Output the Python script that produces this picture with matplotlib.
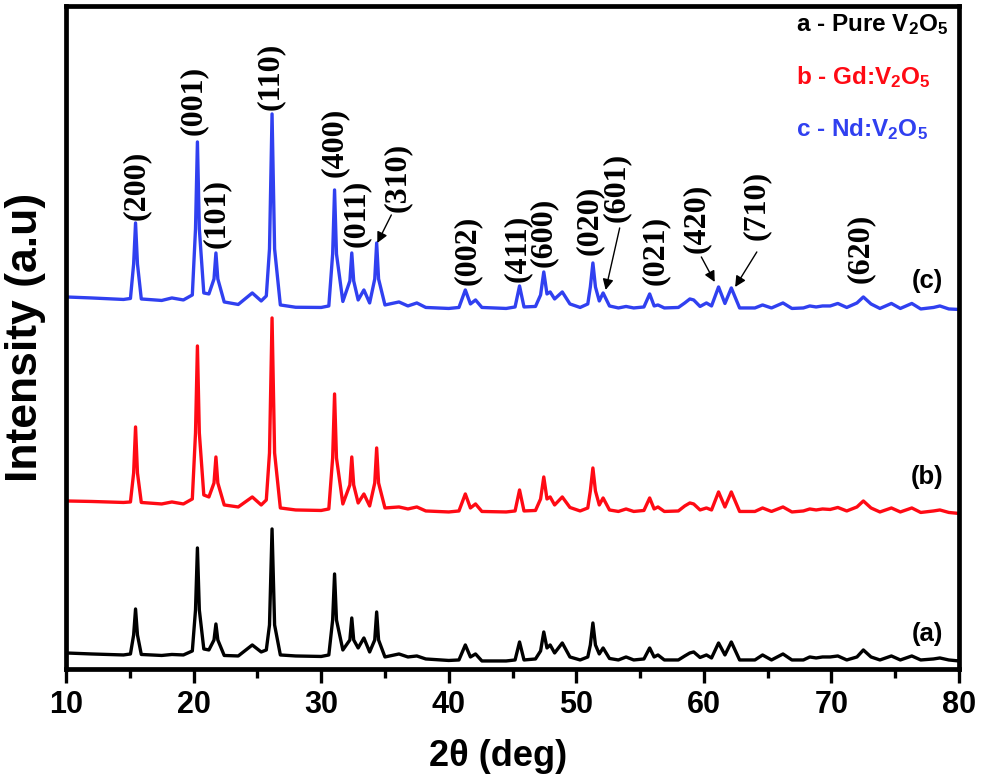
import matplotlib
matplotlib.use('Agg')
import matplotlib.pyplot as plt

plt.rcParams['font.family'] = ['Liberation Sans', 'DejaVu Sans']
plt.rcParams['font.weight'] = 'bold'
plt.rcParams['mathtext.fontset'] = 'custom'
plt.rcParams['mathtext.rm'] = 'Liberation Sans:bold'
plt.rcParams['mathtext.it'] = 'Liberation Sans:bold'
plt.rcParams['mathtext.bf'] = 'Liberation Sans:bold'

# 2theta vertices (shared by the three patterns)
two_theta = [10.0, 12.0, 14.5, 15.05, 15.3, 15.45, 15.6, 15.9, 17.5, 18.3,
             19.2, 19.9, 20.15, 20.3, 20.45, 20.8, 21.2, 21.6, 21.75, 21.9,
             22.4, 23.5, 24.6, 25.3, 25.7, 25.95, 26.15, 26.35, 26.8, 28.0,
             30.0, 30.6, 30.9, 31.05, 31.2, 31.7, 32.25, 32.4, 32.55, 32.9,
             33.35, 33.8, 34.2, 34.35, 34.5, 35.0, 36.1, 36.8, 37.5, 38.2,
             40.0, 40.8, 41.3, 41.7, 42.1, 42.6, 44.5, 45.2, 45.55, 45.9,
             46.8, 47.2, 47.45, 47.7, 47.95, 48.3, 48.9, 49.5, 50.3, 50.9,
             51.1, 51.3, 51.5, 51.8, 52.1, 52.6, 53.3, 53.9, 54.5, 55.3,
             55.75, 56.1, 56.4, 56.9, 58.0, 58.5, 58.9, 59.2, 59.7, 60.2,
             60.6, 61.15, 61.65, 62.15, 62.8, 64.0, 64.6, 65.3, 66.2, 66.9,
             67.8, 68.3, 68.8, 69.3, 69.9, 70.5, 71.2, 72.0, 72.5, 73.1,
             73.8, 74.7, 75.4, 76.3, 77.0, 78.0, 78.5, 79.2, 80.0]

pure = [12, 11, 10, 11, 30, 56, 30, 10.5, 9.5, 10.5,
        10, 14, 55, 117, 55, 16, 15, 25, 41, 25,
        9.5, 9, 20, 13, 15, 40, 136, 40, 10, 9,
        8.5, 10, 45, 91, 45, 15, 25, 47, 25, 17,
        27, 13, 25, 53, 25, 8, 11, 8, 9, 6,
        4.5, 5, 20, 8, 11, 4, 4, 5, 23, 5,
        6, 14, 33, 17, 20, 12, 22, 8, 5, 8,
        20, 42, 20, 11, 17, 6.5, 5, 8, 5, 6,
        17, 8, 10, 5, 5, 9, 12, 13, 7.5, 10,
        7, 22, 10, 23, 5, 5, 10, 5, 11, 5,
        5, 8, 7, 8, 8, 9, 5, 8, 15, 8,
        5, 9, 5, 9, 5, 6, 7, 5, 4]

gd = [12, 11.5, 10.5, 11, 40, 86, 40, 10.5, 9, 11,
      9, 14, 80, 167, 80, 18, 16, 30, 56, 30,
      8, 6, 16, 8, 13, 60, 195, 60, 5, 3,
      2.5, 4, 55, 119, 55, 9, 28, 56, 28, 10,
      19, 7, 30, 65, 30, 5, 6, 4, 6, 2,
      1, 2, 19, 5, 9, 1.5, 1, 2, 23, 2,
      2.5, 14, 36, 14, 16, 8, 16, 5.5, 2, 5,
      22, 45, 22, 8, 15, 3, 1.5, 4, 1.5, 2.5,
      15, 4, 6, 1.5, 2, 7, 10, 9, 3, 5,
      3, 21, 6, 21, 1.5, 1.5, 5, 1.5, 6, 1,
      2, 4, 3, 4, 3.5, 5.5, 2, 6, 12, 5,
      1, 5, 1, 5, 0.5, 2, 3, 0.5, -0.5]

nd = [12, 11, 9.5, 10.5, 45, 86, 45, 10, 8.5, 11,
      9, 14, 80, 167, 80, 16, 15, 30, 56, 30,
      7, 4.5, 16, 8, 13, 60, 195, 60, 4, 1.7,
      1.5, 3, 55, 119, 55, 7.5, 28, 56, 28, 9,
      19, 6, 30, 66, 30, 4, 7, 3, 6, 1.5,
      0.5, 1.5, 19, 5, 9, 1.5, 0.5, 2, 23, 2,
      2.5, 14, 37, 15, 17, 10, 17, 5, 1.5, 5,
      22, 46, 22, 8, 16, 3, 1, 2.5, 1, 2,
      15, 3, 4, 1, 1.5, 6, 10, 9, 2.5, 6,
      3, 22, 5.5, 21, 1, 1, 4, 1, 6, 0.5,
      1, 3, 2, 3, 3, 5.5, 1.5, 6, 12, 5,
      0.5, 5.5, 0.5, 5.5, 0, 1.5, 3, 0, -0.5]

offsets = [0, 152, 356]
colors = ['black', '#ff0a14', '#3040f0']
tags = ['(a)', '(b)', '(c)']
tag_y = [31, 188, 384]
legend_text = [r'a - Pure V$_{2}$O$_{5}$', r'b - Gd:V$_{2}$O$_{5}$', r'c - Nd:V$_{2}$O$_{5}$']

# Miller indices, label anchor (2theta, y)
hkl = ['(200)', '(001)', '(101)', '(110)', '(400)', '(011)', '(310)', '(002)',
       '(411)', '(600)', '(020)', '(601)', '(021)', '(420)', '(710)', '(620)']
hkl_x = [15.5, 19.95, 21.8, 26.05, 31.0, 32.75, 35.95, 41.45,
         45.4, 47.4, 51.05, 53.15, 56.2, 59.4, 64.15, 72.25]
hkl_y = [445, 530, 417, 555, 488, 418, 453, 380,
         383, 398, 410, 443, 380, 412, 425, 382]
arrows = [((35.5, 450), (34.4, 422)), ((53.4, 437), (52.3, 375)),
          ((59.8, 408), (60.85, 383)), ((64.15, 413), (62.45, 378))]

fig = plt.figure(figsize=(9.81, 7.83), dpi=100)
ax = fig.add_axes([0.0673, 0.145, 0.9103, 0.8474])

for ys, off, c in zip([pure, gd, nd], offsets, colors):
    ax.plot(two_theta, [v + off for v in ys], color=c, lw=2.4,
            solid_joinstyle='round')

for t, y in zip(tags, tag_y):
    ax.text(77.5, y, t, fontsize=18.5, fontweight='bold', ha='center', va='center')

for i, (s, c) in enumerate(zip(legend_text, colors)):
    ax.text(0.818, 0.972 - i * 0.079, s, transform=ax.transAxes, color=c,
            fontsize=17.5, fontweight='bold', ha='left', va='center')

for s, x, y in zip(hkl, hkl_x, hkl_y):
    ax.text(x, y, s, rotation=90, ha='center', va='bottom', fontsize=23,
            family='Liberation Serif', fontweight='bold')

for tail, tip in arrows:
    ax.annotate('', xy=tip, xytext=tail,
                arrowprops=dict(arrowstyle='-|>', color='black', lw=1.0,
                                mutation_scale=16, shrinkA=0, shrinkB=0))

ax.set_xlim(10, 80)
ax.set_ylim(-4.5, 659)
ax.set_xticks(range(10, 81, 10))
ax.set_xticks(range(15, 80, 10), minor=True)
ax.set_yticks([])
ax.tick_params(axis='x', which='major', direction='out', length=10, width=2.4,
               labelsize=22, pad=5)
ax.tick_params(axis='x', which='minor', direction='out', length=6.5, width=2.4)
for lab in ax.get_xticklabels():
    lab.set_fontweight('bold')
for sp in ax.spines.values():
    sp.set_linewidth(3.4)

ax.set_xlabel('2θ (deg)', fontsize=26, fontweight='bold')
ax.xaxis.set_label_coords(0.484, -0.105)
ax.set_ylabel('Intensity (a.u)', fontsize=32, fontweight='bold')
ax.yaxis.set_label_coords(-0.022, 0.5)

fig.savefig('out.png', dpi=100)
